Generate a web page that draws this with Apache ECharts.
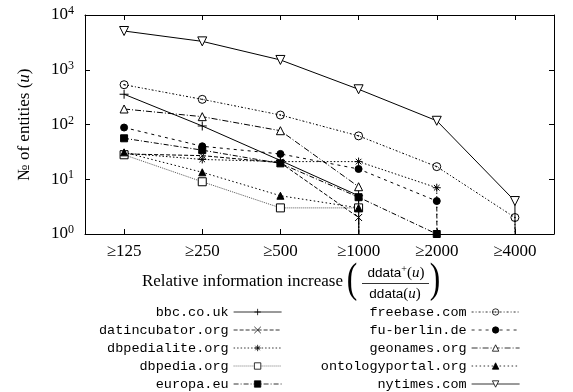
<!DOCTYPE html>
<html><head><meta charset="utf-8">
<script src="https://cdn.jsdelivr.net/npm/echarts@6/dist/echarts.min.js"></script>
<style>html,body{margin:0;padding:0;background:#fff}#c{width:573px;height:392px}</style>
</head><body><div id="c"></div>
<script>
// x categories; the last one lies just past the plotted range (only its line stubs show)
const categories = ['≥125', '≥250', '≥500', '≥1000', '≥2000', '≥4000', '≥8000'];
const yTickExponents = [0, 1, 2, 3, 4];

// series values (0 = no entity; drawn as a drop off the log axis)
const bbc            = [357, 94, 22, 5, 0, 0, 0];
const datincubator   = [29, 27, 20, 2, 0, 0, 0];
const dbpedialite    = [30, 23, 21, 21, 7, 0, 0];
const dbpedia        = [28, 9, 3, 3, 0, 0, 0];
const europa         = [56, 34, 19.5, 4.7, 1, 0, 0];
const freebase       = [533, 288, 149, 62, 17, 2, 0];
const fuberlin       = [88, 40, 29, 15.4, 4, 0, 0];
const geonames       = [192, 139, 77, 7.3, 0, 0, 0];
const ontologyportal = [31, 13.4, 5, 3, 0, 0, 0];
const nytimes        = [5100, 3300, 1510, 440, 117, 4, 0];

const names = ['bbc.co.uk', 'datincubator.org', 'dbpedialite.org', 'dbpedia.org', 'europa.eu',
               'freebase.com', 'fu-berlin.de', 'geonames.org', 'ontologyportal.org', 'nytimes.com'];
const values = [bbc, datincubator, dbpedialite, dbpedia, europa, freebase, fuberlin, geonames, ontologyportal, nytimes];

const INK = '#000';
const SERIF = '"Liberation Serif", "DejaVu Serif", serif';
const MONO = '"Liberation Mono", "DejaVu Sans Mono", monospace';
const SANS = '"Liberation Sans", "DejaVu Sans", sans-serif';
const CLEAR = 'rgba(0,0,0,0)';

const styles = [
  {dash: 'solid', color: INK, symbol: 'path://M5,0L5,10M0,5L10,5', size: 9, fill: CLEAR},
  {dash: [4, 2], color: INK, symbol: 'path://M0,0L10,10M10,0L0,10', size: 7, fill: CLEAR},
  {dash: [1.5, 2], color: INK, symbol: 'path://M5,0L5,10M0,5L10,5M1.5,1.5L8.5,8.5M8.5,1.5L1.5,8.5', size: 8, fill: CLEAR},
  {dash: [1, 1], color: '#555', symbol: 'rect', size: 8, fill: '#fff'},
  {dash: [5, 2, 1, 2], color: INK, symbol: 'rect', size: 7, fill: INK},
  {dash: [2, 2, 1, 2], color: INK, symbol: 'path://M10,5A5,5,0,1,1,0,5A5,5,0,1,1,10,5ZM5.5,5A0.5,0.5,0,1,0,4.5,5A0.5,0.5,0,1,0,5.5,5Z', size: 8, fill: CLEAR},
  {dash: [3, 4], color: INK, symbol: 'circle', size: 7, fill: INK},
  {dash: [6, 2, 1, 2], color: INK, symbol: 'triangle', size: 8, fill: '#fff'},
  {dash: [1.5, 2.5], color: INK, symbol: 'triangle', size: 7, fill: INK},
  {dash: 'solid', color: INK, symbol: 'path://M0,0L10,0L5,8.66Z', size: 9, fill: '#fff'}
];

const toPlot = v => (v > 0 ? v : 1e-300);

const series = names.map((n, i) => ({
  name: n,
  type: 'line',
  data: values[i].map(toPlot),
  clip: true,
  symbol: styles[i].symbol,
  symbolSize: styles[i].size,
  showSymbol: true,
  lineStyle: {color: styles[i].color, width: 1, type: styles[i].dash},
  itemStyle: {color: styles[i].fill, borderColor: INK, borderWidth: 1},
  emphasis: {disabled: true},
  z: 3
}));

const legendCommon = {
  orient: 'vertical', align: 'right', top: 304.5, height: 90, padding: 0,
  itemWidth: 48, itemHeight: 8, itemGap: 3,
  lineStyle: {width: 0.8},
  itemStyle: {borderWidth: 0.8},
  textStyle: {fontFamily: MONO, fontSize: 13.5, color: INK, lineHeight: 15},
  selectedMode: false
};

const axisLineStyle = {show: true, lineStyle: {color: INK, width: 1}};
const tickStyle = {show: true, inside: true, length: 5, lineStyle: {color: INK, width: 1}};

const chart = echarts.init(document.getElementById('c'), null, {renderer: 'canvas'});
chart.setOption({
  animation: false,
  backgroundColor: '#fff',
  grid: {left: 85, right: 19, top: 15, bottom: 158, show: false},
  xAxis: [
    {type: 'category', data: categories, max: 5, boundaryGap: true, position: 'bottom',
     axisLine: axisLineStyle, axisTick: Object.assign({alignWithLabel: true, interval: 0}, tickStyle),
     axisLabel: {interval: 0, margin: 9, fontFamily: SERIF, fontSize: 17, color: INK},
     splitLine: {show: false}},
    {type: 'category', data: categories, max: 5, boundaryGap: true, position: 'top',
     axisLine: axisLineStyle, axisTick: Object.assign({alignWithLabel: true, interval: 0}, tickStyle),
     axisLabel: {show: false}, splitLine: {show: false}}
  ],
  yAxis: [
    {type: 'log', logBase: 10, min: Math.pow(10, yTickExponents[0]), max: Math.pow(10, yTickExponents[yTickExponents.length - 1]),
     position: 'left', axisLine: axisLineStyle, axisTick: tickStyle, splitLine: {show: false},
     axisLabel: {
       margin: 11, color: INK,
       formatter: v => '{b|10}{s|' + Math.round(Math.log10(v)) + '}',
       rich: {b: {fontFamily: SERIF, fontSize: 17, color: INK},
              s: {fontFamily: SERIF, fontSize: 12, color: INK, padding: [0, 0, 8, 0]}}
     },
     name: '№ of entities ({i|u})', nameLocation: 'middle', nameGap: 52, nameRotate: 90,
     nameTextStyle: {fontFamily: SERIF, fontSize: 17, color: INK,
       rich: {i: {fontFamily: SERIF, fontSize: 17, fontStyle: 'italic', color: INK}}}},
    {type: 'log', logBase: 10, min: 1, max: 10000, position: 'right',
     axisLine: axisLineStyle, axisTick: tickStyle, splitLine: {show: false}, axisLabel: {show: false}}
  ],
  legend: [
    Object.assign({data: names.slice(0, 5), right: 291}, legendCommon),
    Object.assign({data: names.slice(5), right: 53}, legendCommon)
  ],
  graphic: [
    {type: 'text', x: 343, y: 282, style: {text: 'Relative information increase', fontFamily: SERIF, fontSize: 17, fill: INK, align: 'right', verticalAlign: 'middle'}},
    {type: 'text', x: 352, y: 281, scaleX: 0.75, style: {text: '(', fontFamily: SERIF, fontSize: 42, fontWeight: 'lighter', fill: INK, align: 'center', verticalAlign: 'middle'}},
    {type: 'text', x: 396, y: 273, style: {
      text: '{s|ddata}{p|+}{r|(}{i|u}{r|)}', align: 'center', verticalAlign: 'middle',
      rich: {s: {fontFamily: SANS, fontSize: 13.5, fill: INK},
             p: {fontFamily: SERIF, fontSize: 10, fill: INK, padding: [0, 0, 8, 0]},
             r: {fontFamily: SERIF, fontSize: 15, fill: INK},
             i: {fontFamily: SERIF, fontSize: 15, fontStyle: 'italic', fill: INK}}}},
    {type: 'line', shape: {x1: 362, y1: 283.5, x2: 429, y2: 283.5}, style: {stroke: INK, lineWidth: 0.8}},
    {type: 'text', x: 395, y: 294, style: {
      text: '{s|ddata}{r|(}{i|u}{r|)}', align: 'center', verticalAlign: 'middle',
      rich: {s: {fontFamily: SANS, fontSize: 13.5, fill: INK},
             r: {fontFamily: SERIF, fontSize: 15, fill: INK},
             i: {fontFamily: SERIF, fontSize: 15, fontStyle: 'italic', fill: INK}}}},
    {type: 'text', x: 435, y: 281, scaleX: 0.75, style: {text: ')', fontFamily: SERIF, fontSize: 42, fontWeight: 'lighter', fill: INK, align: 'center', verticalAlign: 'middle'}}
  ],
  series: series
});
</script>
</body></html>
